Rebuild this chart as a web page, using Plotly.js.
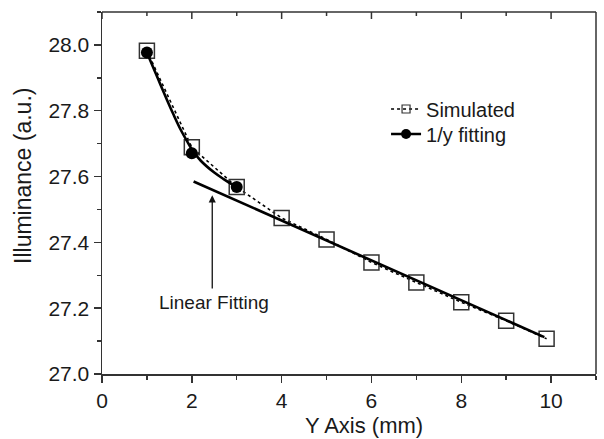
<!DOCTYPE html>
<html>
<head>
<meta charset="utf-8">
<script src="https://cdn.plot.ly/plotly-3.0.1.min.js"></script>
<style>html,body{margin:0;padding:0;background:#fff;}#chart{width:604px;height:439px;}</style>
</head>
<body>
<div id="chart"></div>
<script>
// Simulated illuminance (open squares, dotted line)
var simX = [1, 2, 3, 4, 5, 6, 7, 8, 9, 9.9];
var simY = [27.982, 27.689, 27.568, 27.474, 27.409, 27.339, 27.278, 27.218, 27.162, 27.107];

// 1/y fitting: fitted points (filled circles)
var dotX = [1, 2, 3];
var dotY = [27.977, 27.671, 27.568];

// 1/y fitting curve
var fitX = [1.0, 1.15, 1.3, 1.45, 1.6, 1.75, 1.9, 2.0, 2.2, 2.5, 2.7, 3.0];
var fitY = [27.977, 27.928, 27.880, 27.832, 27.786, 27.743, 27.706, 27.683, 27.648, 27.612, 27.593, 27.568];

// Linear fitting line end points
var linX = [2.04, 9.85];
var linY = [27.585, 27.112];

// Annotation arrow (tip and tail) and label
var arrowX = [2.455, 2.455];
var arrowY = [27.543, 27.255];
var labelPos = [2.484, 27.217];

var xTickVals = [0, 2, 4, 6, 8, 10];
var xMinorVals = [1, 3, 5, 7, 9];
var yTickVals = [27.0, 27.2, 27.4, 27.6, 27.8, 28.0];

var xTitle = 'Y Axis (mm)';
var yTitle = 'Illuminance (a.u.)';

var FONT = 'Liberation Sans, Arial, Helvetica, sans-serif';
var INK = '#1a1a1a';
var AX = '#333333';

var traces = [
  {x: simX, y: simY, type: 'scatter', mode: 'lines+markers', name: 'Simulated', showlegend: false,
   line: {color: '#000', width: 1.6, dash: 'dot'},
   marker: {symbol: 'square-open', size: 15, color: '#333', line: {width: 1.5, color: '#333'}}},
  {x: fitX, y: fitY, type: 'scatter', mode: 'lines', showlegend: false,
   line: {color: '#000', width: 2.6, shape: 'spline'}},
  {x: dotX, y: dotY, type: 'scatter', mode: 'markers', showlegend: false,
   marker: {symbol: 'circle', size: 12, color: '#000'}},
  {x: linX, y: linY, type: 'scatter', mode: 'lines', showlegend: false,
   line: {color: '#000', width: 2.6}},
  // legend entries
  {x: [null], y: [null], type: 'scatter', mode: 'lines+markers', name: 'Simulated', legend: 'legend',
   line: {color: '#000', width: 1.6, dash: 'dot'},
   marker: {symbol: 'square-open', size: 8, color: '#333', line: {width: 1.2, color: '#333'}}},
  {x: [null], y: [null], type: 'scatter', mode: 'lines+markers', name: '1/y fitting', legend: 'legend2',
   line: {color: '#000', width: 2.6},
   marker: {symbol: 'circle', size: 10, color: '#000'}}
];

// frame on top/right and inward ticks on the top edge
var shapes = [
  {type: 'line', xref: 'paper', yref: 'paper', x0: 0, x1: 1, y0: 1, y1: 1, layer: 'above',
   line: {color: AX, width: 1.5}},
  {type: 'line', xref: 'paper', yref: 'paper', x0: 1, x1: 1, y0: 0, y1: 1, layer: 'above',
   line: {color: AX, width: 1.5}}
];
xTickVals.forEach(function(v){
  shapes.push({type: 'line', xref: 'x', yref: 'paper', ysizemode: 'pixel', yanchor: 1, x0: v, x1: v, y0: -7, y1: 0,
               layer: 'above', line: {color: AX, width: 1.5}});
});
xMinorVals.forEach(function(v){
  shapes.push({type: 'line', xref: 'x', yref: 'paper', ysizemode: 'pixel', yanchor: 1, x0: v, x1: v, y0: -4, y1: 0,
               layer: 'above', line: {color: AX, width: 1.5}});
});

var legendBase = {xanchor: 'left', yanchor: 'middle', bgcolor: 'rgba(0,0,0,0)', borderwidth: 0,
                  font: {family: FONT, size: 20, color: INK}};

var layout = {
  width: 604, height: 439,
  margin: {l: 102, r: 8, t: 12, b: 65},
  paper_bgcolor: '#fff', plot_bgcolor: '#fff',
  font: {family: FONT, color: INK, size: 21},
  showlegend: true,
  legend: Object.assign({x: 0.575, y: 0.732}, legendBase),
  legend2: Object.assign({x: 0.575, y: 0.663}, legendBase),
  xaxis: {
    range: [0, 11], tickvals: xTickVals, ticktext: xTickVals.map(String),
    showgrid: false, zeroline: false, showline: true, linecolor: AX, linewidth: 1.5,
    ticks: 'outside', ticklen: 7, tickwidth: 1.5, tickcolor: AX,
    minor: {dtick: 1, tick0: 0, ticks: 'outside', ticklen: 4, tickwidth: 1.5, tickcolor: AX, showgrid: false},
    tickfont: {family: FONT, size: 21, color: INK}
  },
  yaxis: {
    range: [27.0, 28.1], tickvals: yTickVals, ticktext: yTickVals.map(function(v){return v.toFixed(1);}),
    showgrid: false, zeroline: false, showline: true, linecolor: AX, linewidth: 1.5,
    ticks: 'outside', ticklen: 7, tickwidth: 1.5, tickcolor: AX,
    minor: {dtick: 0.1, tick0: 27.0, ticks: 'outside', ticklen: 4, tickwidth: 1.5, tickcolor: AX, showgrid: false},
    tickfont: {family: FONT, size: 21, color: INK}
  },
  shapes: shapes,
  annotations: [
    {x: arrowX[0], y: arrowY[0], ax: arrowX[1], ay: arrowY[1], axref: 'x', ayref: 'y', xref: 'x', yref: 'y',
     text: '', showarrow: true, arrowhead: 2, arrowsize: 1.1, arrowwidth: 1.3, arrowcolor: '#111'},
    {x: labelPos[0], y: labelPos[1], xref: 'x', yref: 'y', text: 'Linear Fitting', showarrow: false,
     xanchor: 'center', yanchor: 'middle', font: {family: FONT, size: 19, color: INK}},
    {x: 0.530, y: -0.141, xref: 'paper', yref: 'paper', text: xTitle, showarrow: false,
     xanchor: 'center', yanchor: 'middle', font: {family: FONT, size: 22, color: INK}},
    {x: -0.160, y: 0.547, xref: 'paper', yref: 'paper', text: yTitle, showarrow: false, textangle: -90,
     xanchor: 'center', yanchor: 'middle', font: {family: FONT, size: 23, color: INK}}
  ]
};

Plotly.newPlot('chart', traces, layout, {displayModeBar: false, staticPlot: true});
</script>
</body>
</html>
